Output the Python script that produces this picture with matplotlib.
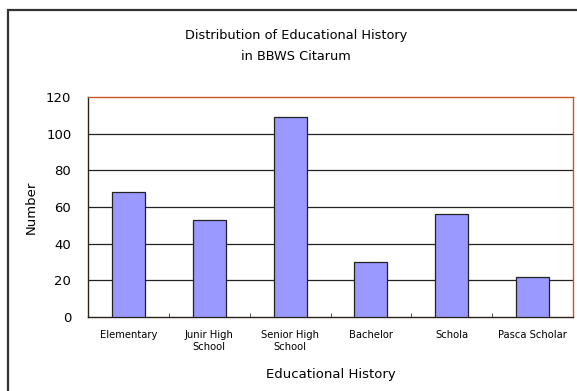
import matplotlib.pyplot as plt
import matplotlib.patches as patches
import numpy as np

# data
categories = ['Elementary', 'Junir High\nSchool', 'Senior High\nSchool', 'Bachelor', 'Schola', 'Pasca Scholar']
counts = [68, 53, 109, 30, 56, 22]
yticks = [0, 20, 40, 60, 80, 100, 120]

fig = plt.figure(figsize=(5.77, 3.91), dpi=100)
ax = fig.add_axes([88/577, 1 - 317/391, 485/577, 220/391])

# outer chart frame (runs off the right and bottom edges)
frame = patches.Rectangle((8/577, -0.05), 1.1, 1 - 10/391 + 0.05, transform=fig.transFigure,
                          fill=False, edgecolor='#333333', linewidth=1.6, clip_on=False)
fig.patches.append(frame)

x = np.arange(len(categories))
ax.bar(x, counts, width=0.41, color='#9999FF', edgecolor='#222222', linewidth=0.9, zorder=3)

ax.set_xlim(-0.5, len(categories) - 0.5)
ax.set_ylim(0, 120)
ax.set_yticks(yticks)
ax.set_yticklabels([str(v) for v in yticks], fontsize=9.5)
ax.tick_params(axis='y', length=0, pad=12)
ax.set_xticks(x)
ax.set_xticklabels(categories, fontsize=7.2, linespacing=1.25)
ax.tick_params(axis='x', length=0, pad=9)
ax.set_xticks(np.arange(0.5, len(categories) - 0.5), minor=True)
ax.tick_params(axis='x', which='minor', direction='in', length=3, color='#333333')

for v in yticks[1:-1]:
    ax.axhline(v, color='#222222', linewidth=0.9, zorder=1)

ax.spines['top'].set_color('#C8561E')
ax.spines['right'].set_color('#C8561E')
ax.spines['left'].set_color('#2a2218')
ax.spines['bottom'].set_color('#2a2218')
for s in ax.spines.values():
    s.set_linewidth(1.0)

ax.set_ylabel('Number', fontsize=9.5, labelpad=6)
ax.set_xlabel('Educational History', fontsize=9.5, labelpad=12)

fig.text(296/577, 1 - 35/391, 'Distribution of Educational History', ha='center', va='center', fontsize=9.3)
fig.text(296/577, 1 - 56/391, 'in BBWS Citarum', ha='center', va='center', fontsize=9.3)

fig.savefig('out.png', dpi=100)
